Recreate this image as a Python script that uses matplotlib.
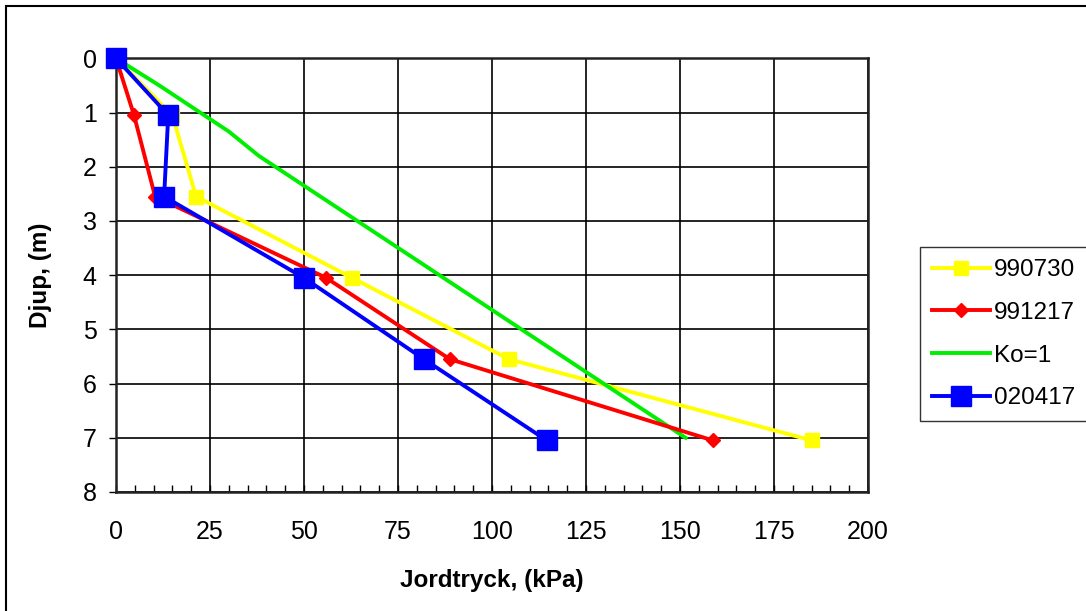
import matplotlib
matplotlib.use('Agg')
import matplotlib.pyplot as plt
from matplotlib.patches import Rectangle
from matplotlib.ticker import MultipleLocator

plt.rcParams['font.family'] = ['Liberation Sans', 'DejaVu Sans']

# depths (m)
depth = [0, 1.05, 2.55, 4.05, 5.55, 7.05]

# earth pressure (kPa) per series
p_990730 = [0, 15, 21.3, 62.8, 104.5, 185.1]
p_991217 = [0, 4.8, 10.4, 55.9, 88.8, 158.8]
p_020417 = [0, 13.9, 12.8, 50.0, 81.9, 114.6]

# Ko=1 line
ko_x = [0, 11.5, 30, 38, 151.5]
ko_y = [0, 0.5, 1.35, 1.8, 7.0]

fig = plt.figure(figsize=(10.86, 6.11), dpi=100)
ax = fig.add_axes([0.1068, 0.1948, 0.6924, 0.7098])

ax.plot(p_990730, depth, color='#ffff00', lw=2.8, marker='s', ms=9.5,
        label='990730', zorder=3, clip_on=False)
ax.plot(p_991217, depth, color='#ff0000', lw=2.8, marker='D', ms=7.5,
        label='991217', zorder=4, clip_on=False)
ax.plot(ko_x, ko_y, color='#00ee00', lw=2.8, label='Ko=1', zorder=3)
ax.plot(p_020417, depth, color='#0000ff', lw=2.8, marker='s', ms=15,
        label='020417', zorder=5, clip_on=False)

ax.set_xlim(0, 200)
ax.set_ylim(8, 0)
ax.xaxis.set_major_locator(MultipleLocator(25))
ax.xaxis.set_minor_locator(MultipleLocator(5))
ax.yaxis.set_major_locator(MultipleLocator(1))
ax.grid(True, which='major', color='black', lw=1.2)
ax.set_axisbelow(True)

ax.tick_params(axis='x', which='both', direction='in', length=5, width=1,
               labelsize=18, pad=20)
ax.tick_params(axis='y', which='major', direction='out', length=5, width=1,
               labelsize=18, pad=9)
for s in ax.spines.values():
    s.set_linewidth(1.8)
    s.set_color('#222222')

ax.set_xlabel('Jordtryck, (kPa)', fontsize=17.5, fontweight='bold', labelpad=18)
ax.set_ylabel('Djup, (m)', fontsize=17.5, fontweight='bold', labelpad=22)

leg = fig.legend(loc='upper left', bbox_to_anchor=(920 / 1086, 1 - 247 / 611),
                 fontsize=17.5, frameon=True, fancybox=False, edgecolor='black',
                 handlelength=2.4, handletextpad=0.15, labelspacing=0.85,
                 borderpad=0.5, borderaxespad=0)
leg.get_frame().set_linewidth(1.0)

# outer chart border
fig.patches.append(Rectangle((6 / 1086, -0.1), 1.2, 1 - 6 / 611 + 0.1,
                             transform=fig.transFigure, fill=False,
                             edgecolor='black', lw=1.5))

fig.savefig('out.png', dpi=100)
